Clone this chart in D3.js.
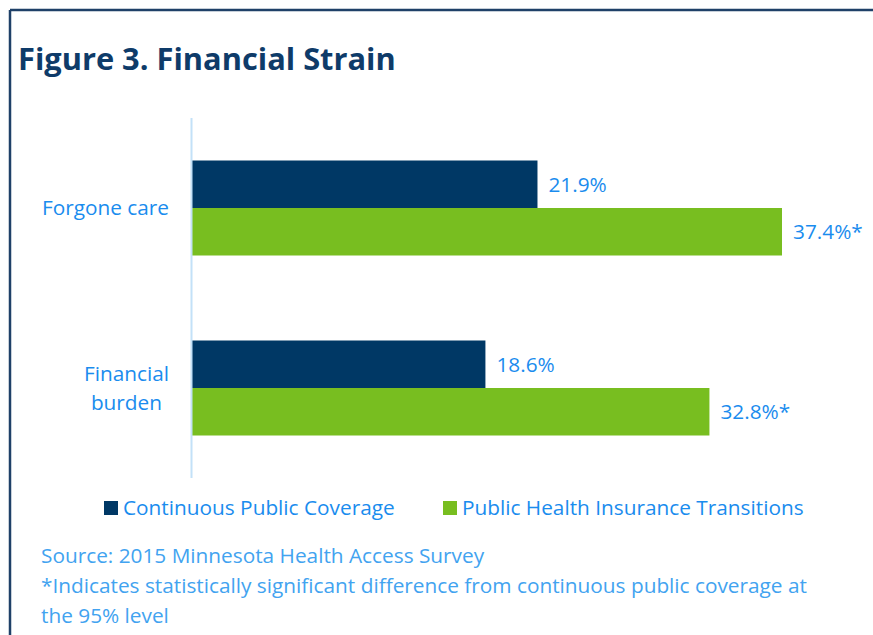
<!DOCTYPE html>
<html>
<head>
<meta charset="utf-8">
<script src="https://cdn.jsdelivr.net/npm/d3@7"></script>
<style>
  body { margin: 0; background: #fff; }
  svg { display: block; }
</style>
</head>
<body>
<svg id="chart"></svg>
<script>
// data
var categories = ["Forgone care", "Financial burden"]
var categoryLines = [["Forgone care"], ["Financial", "burden"]]
var seriesNames = ["Continuous Public Coverage", "Public Health Insurance Transitions"]
var continuousValues = [21.9, 18.6]
var transitionValues = [37.4, 32.8]
var significant = [true, true]   // transitions differ from continuous
var sourceLines = [
    "Source: 2015 Minnesota Health Access Survey",
    "*Indicates statistically significant difference from continuous public coverage at",
    "the 95% level"
]

var width = 873, height = 635
var font = "'Open Sans', sans-serif"
var fs = "20.8px"
var navy = "#003865", green = "#78be20"
var labelBlue = "#1a8cee", sourceBlue = "#42a3f0"

var svg = d3.select("#chart").attr("width", width).attr("height", height)

// frame: top and left rule
svg.append("line").attr("x1", 10).attr("x2", width).attr("y1", 10).attr("y2", 10)
    .attr("stroke", "#1f4068").attr("stroke-width", 2.5)
svg.append("line").attr("x1", 10).attr("x2", 10).attr("y1", 10).attr("y2", height)
    .attr("stroke", "#1f4068").attr("stroke-width", 2.5)

svg.append("text")
    .attr("x", 18).attr("y", 70)
    .style("font-family", font).style("font-weight", "bold")
    .style("font-size", "30.8px").style("fill", "#0e3b69")
    .text("Figure 3. Financial Strain")

var x = d3.scaleLinear().domain([0, 37.4]).range([192, 782])
var y = d3.scaleBand().domain(categories).range([118, 478]).paddingInner(0).paddingOuter(0)

var rows = categories.map((c, i) => ({
    cat: c,
    bars: [
        { s: 0, v: continuousValues[i], star: false },
        { s: 1, v: transitionValues[i], star: significant[i] }
    ]
}))

var barH = 47.5
var g = svg.append("g")
var row = g.selectAll("g.row").data(rows).join("g").attr("class", "row")
    .attr("transform", d => "translate(0," + (y(d.cat) + y.bandwidth() / 2 - barH) + ")")

row.selectAll("rect").data(d => d.bars).join("rect")
    .attr("x", x(0))
    .attr("y", d => d.s * barH)
    .attr("width", d => x(d.v) - x(0))
    .attr("height", barH)
    .attr("fill", d => d.s == 0 ? navy : green)

row.selectAll("text.val").data(d => d.bars).join("text").attr("class", "val")
    .attr("x", d => x(d.v) + 11)
    .attr("y", d => d.s * barH + barH / 2)
    .attr("dy", "0.35em")
    .style("font-family", font).style("font-size", fs).style("fill", labelBlue)
    .text(d => d.v.toFixed(1) + "%" + (d.star ? "*" : ""))

// axis line
svg.append("line").attr("x1", x(0) - 0.5).attr("x2", x(0) - 0.5).attr("y1", 118).attr("y2", 478)
    .attr("stroke", "#c3e1f8").attr("stroke-width", 2)

// category labels: block right aligned to 169, lines centered within block
categories.forEach((c, i) => {
    var lines = categoryLines[i]
    var t = svg.append("text")
        .style("font-family", font).style("font-size", fs).style("fill", labelBlue)
        .attr("text-anchor", "middle")
    var lineH = 29
    var cy = y(c) + y.bandwidth() / 2
    lines.forEach((l, j) => {
        t.append("tspan").attr("y", cy + (j - (lines.length - 1) / 2) * lineH).attr("dy", "0.35em").text(l)
    })
    var maxW = d3.max(t.selectAll("tspan").nodes(), n => n.getComputedTextLength())
    t.selectAll("tspan").attr("x", 169 - maxW / 2)
})

// legend
var legendX = [104, 443]
var leg = svg.append("g").selectAll("g").data(seriesNames).join("g")
    .attr("transform", (d, i) => "translate(" + legendX[i] + ",501)")
leg.append("rect").attr("width", 14).attr("height", 14).attr("fill", (d, i) => i == 0 ? navy : green)
leg.append("text").attr("x", 19).attr("y", 7).attr("dy", "0.35em")
    .style("font-family", font).style("font-size", fs).style("fill", labelBlue)
    .text(d => d)

svg.append("g").selectAll("text").data(sourceLines).join("text")
    .attr("x", 41).attr("y", (d, i) => 563 + i * 30)
    .style("font-family", font).style("font-size", fs).style("fill", sourceBlue)
    .text(d => d)
</script>
</body>
</html>
